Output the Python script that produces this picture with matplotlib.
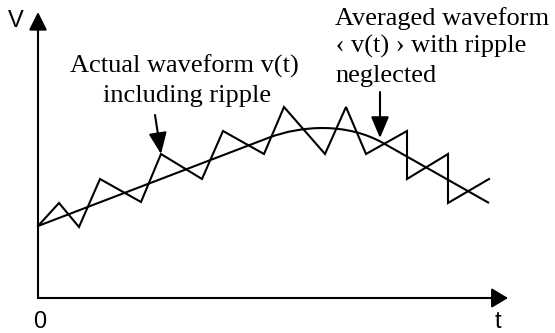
import matplotlib
matplotlib.use("Agg")
import matplotlib.pyplot as plt
from matplotlib.path import Path
from matplotlib.patches import PathPatch, FancyArrowPatch

# ---- data (t, v) ----
ripple_t = [0, 21, 41, 62, 103, 123, 164, 185, 226, 246, 287, 308, 328, 369, 369, 410, 410, 451]
ripple_v = [72, 95, 71, 119, 96, 144, 119, 167, 144, 191, 144, 191, 144, 167, 119, 144, 95, 119]

# averaged waveform: line, cubic Bezier (2 control pts), line
avg_t = [0, 230, 265, 310, 345, 451]
avg_v = [72, 160, 173.4, 174.8, 155, 95]

label_actual = ["Actual waveform v(t)", "including ripple"]
label_avg = ["Averaged waveform", " \u2039 v(t) \u203a with ripple", "neglected"]

W, H, DPI = 555, 333, 100
fig = plt.figure(figsize=(W / DPI, H / DPI), dpi=DPI)
ax = fig.add_axes([0, 0, 1, 1])
ax.set_xlim(-38, W - 38)
ax.set_ylim(298 - H, 298)
ax.axis("off")

LW = 1.5
# axes with arrows
ax.add_patch(FancyArrowPatch((0, 0), (0, 286), arrowstyle="-|>,head_length=11,head_width=5.5",
                             mutation_scale=1, lw=LW, color="black", shrinkA=0, shrinkB=0))
ax.add_patch(FancyArrowPatch((0, 0), (470, 0), arrowstyle="-|>,head_length=10,head_width=6",
                             mutation_scale=1, lw=LW, color="black", shrinkA=0, shrinkB=0))

# actual waveform with ripple
ax.plot(ripple_t, ripple_v, color="black", lw=LW, solid_joinstyle="miter")

# averaged waveform
codes = [Path.MOVETO, Path.LINETO, Path.CURVE4, Path.CURVE4, Path.CURVE4, Path.LINETO]
ax.add_patch(PathPatch(Path(list(zip(avg_t, avg_v)), codes), fill=False, lw=LW, color="black"))

serif = "Liberation Serif"
FS = 19
ax.text(32, 225, label_actual[0], family=serif, fontsize=FS, va="baseline", ha="left")
ax.text(65, 196, label_actual[1], family=serif, fontsize=FS, va="baseline", ha="left")
ax.text(297, 273, label_avg[0], family=serif, fontsize=FS, va="baseline", ha="left")
ax.text(291, 245, label_avg[1], family=serif, fontsize=FS, va="baseline", ha="left")
ax.text(297, 216, label_avg[2], family=serif, fontsize=FS, va="baseline", ha="left")

# pointer arrows
ax.add_patch(FancyArrowPatch((117, 183), (ripple_t[5], ripple_v[5]), arrowstyle="-|>,head_length=13,head_width=5.5",
                             mutation_scale=1, lw=LW, color="black", shrinkA=0, shrinkB=0))
ax.add_patch(FancyArrowPatch((342, 206), (342, 160), arrowstyle="-|>,head_length=13,head_width=5.5",
                             mutation_scale=1, lw=LW, color="black", shrinkA=0, shrinkB=0))

sans = "Liberation Sans"
ax.text(-30, 271, "V", family=sans, fontsize=17, va="baseline", ha="left")
ax.text(-5, -30, "0", family=sans, fontsize=17, va="baseline", ha="left")
ax.text(457, -30, "t", family=sans, fontsize=17, va="baseline", ha="left")

fig.savefig("out.png", dpi=DPI)
